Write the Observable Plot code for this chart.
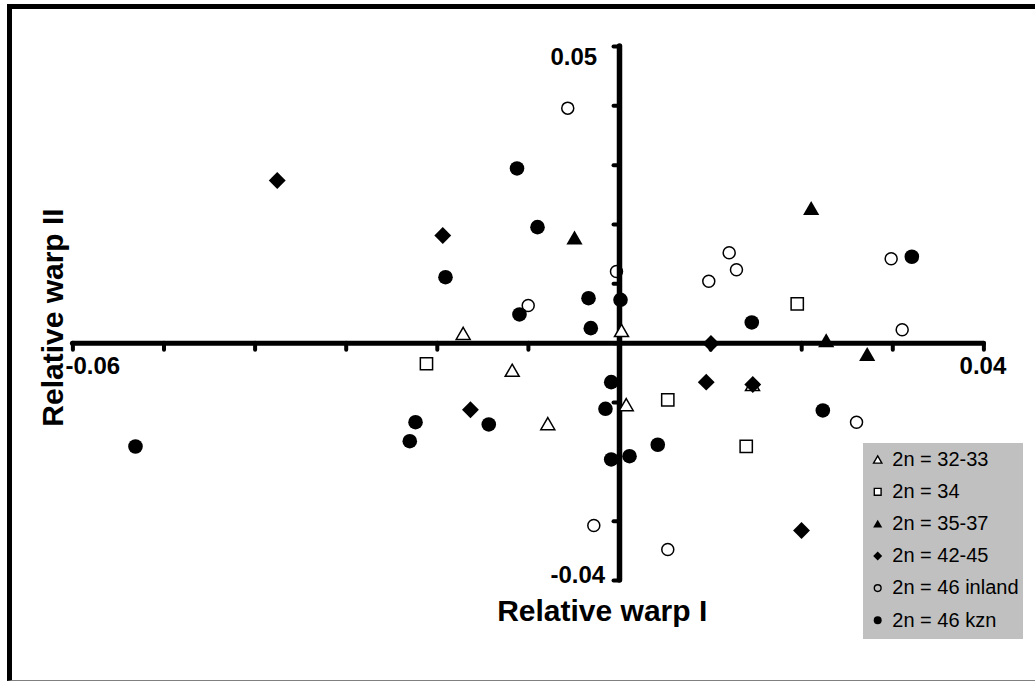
<!DOCTYPE html>
<html><head><meta charset="utf-8">
<script src="https://cdn.jsdelivr.net/npm/d3@7"></script>
<script src="https://cdn.jsdelivr.net/npm/@observablehq/plot@0.6"></script>
<style>
html,body{margin:0;padding:0;background:#fff;overflow:hidden;width:1035px;height:681px;}
#frame{position:absolute;left:7px;top:3.5px;width:2000px;height:671px;border-left:5px solid #000;border-top:5px solid #000;border-bottom:1px solid #808080;}
#chart{position:absolute;left:0;top:0;}
#legend{position:absolute;left:863px;top:443px;width:160px;height:196px;}
</style></head><body>
<div id="frame"></div>
<div id="chart"></div>
<div id="legend"></div>
<script>
// ---- data ----
const groups = ["2n = 32-33", "2n = 34", "2n = 35-37", "2n = 42-45", "2n = 46 inland", "2n = 46 kzn"];

const g3233X = [-0.01716, -0.01178, -0.00787, 0.00022, 0.00074, 0.0146];
const g3233Y = [0.0013, -0.0049, -0.0139, 0.0018, -0.0107, -0.0073];

const g34X = [-0.02119, 0.0053, 0.01391, 0.01951];
const g34Y = [-0.00347, -0.00954, -0.01741, 0.00664];

const g3537X = [-0.00494, 0.02104, 0.02269, 0.02719];
const g3537Y = [0.0174, 0.0224, 0.0001, -0.0022];

const g4245X = [-0.03757, -0.0194, -0.01636, 0.00952, 0.01463, 0.01998, 0.01004];
const g4245Y = [0.02742, 0.01815, -0.01123, -0.00657, -0.00696, -0.03157, -0.00005];

const g46inX = [-0.00568, -0.01002, -0.00033, 0.0098, 0.01204, 0.01284, 0.02982, 0.03103, 0.02602, -0.00282, 0.0053];
const g46inY = [0.03961, 0.00635, 0.01208, 0.01045, 0.01524, 0.01237, 0.01423, 0.00226, -0.01332, -0.03073, -0.03477];

const g46kzX = [-0.05313, -0.02302, -0.02239, -0.0191, -0.01435, -0.01125, -0.01098, -0.009, -0.0034, -0.00315, 0.00011, -0.00091, -0.00154, -0.00091, 0.0011, 0.0042, 0.01452, 0.02232, 0.03209];
const g46kzY = [-0.01741, -0.01652, -0.01332, 0.01112, -0.0137, 0.02945, 0.00484, 0.01955, 0.00758, 0.00253, 0.00731, -0.00657, -0.01106, -0.0196, -0.01905, -0.01712, 0.00349, -0.01134, 0.01456];

const xTicks = [-0.06, -0.05, -0.04, -0.03, -0.02, -0.01, 0, 0.01, 0.02, 0.03, 0.04];
const yTicks = [-0.04, -0.03, -0.02, -0.01, 0, 0.01, 0.02, 0.03, 0.04, 0.05];
const xTickLabels = ["-0.06", "0.04"];
const yTickLabels = ["0.05", "-0.04"];
const xTitle = "Relative warp I";
const yTitle = "Relative warp II";

// ---- build tables ----
const toRows = (X, Y) => X.map((x, i) => ({x, y: Y[i]}));
const series = [toRows(g3233X, g3233Y), toRows(g34X, g34Y), toRows(g3537X, g3537Y),
                toRows(g4245X, g4245Y), toRows(g46inX, g46inY), toRows(g46kzX, g46kzY)];
const styles = [
  {symbol: "triangle", r: 5.2, fill: "white", stroke: "black", strokeWidth: 1.5},
  {symbol: "square", r: 6.9, fill: "white", stroke: "black", strokeWidth: 1.5},
  {symbol: "triangle", r: 6.0, fill: "black", stroke: "none"},
  {symbol: "diamond2", r: 7.6, fill: "black", stroke: "none"},
  {symbol: "circle", r: 6.0, fill: "none", stroke: "black", strokeWidth: 1.5},
  {symbol: "circle", r: 7.3, fill: "black", stroke: "none"}
];

const xDom = [xTicks[0], xTicks[xTicks.length - 1]];
const yDom = [yTicks[0], yTicks[yTicks.length - 1]];
const font = "'Liberation Sans', Arial, sans-serif";

const chart = Plot.plot({
  width: 1035, height: 681,
  marginLeft: 72.4, marginRight: 51.6, marginTop: 46, marginBottom: 101,
  x: {domain: xDom, axis: null},
  y: {domain: yDom, axis: null},
  style: {fontFamily: font, background: "transparent", overflow: "visible"},
  marks: [
    // tick marks
    Plot.ruleX(xTicks, {x: d => d, y1: 0, y2: -0.00118, stroke: "black", strokeWidth: 4, strokeLinecap: "round"}),
    Plot.ruleY(yTicks, {y: d => d, x1: 0, x2: -0.0006, stroke: "black", strokeWidth: 4, strokeLinecap: "round"}),
    // axis lines through origin
    Plot.ruleY([0], {x1: xDom[0], x2: xDom[1], stroke: "black", strokeWidth: 5, strokeLinecap: "round"}),
    Plot.ruleX([0], {y1: yDom[0], y2: yDom[1], stroke: "black", strokeWidth: 5.5, strokeLinecap: "round"}),
    // tick labels
    Plot.text([xTickLabels[0]], {x: xDom[0], y: 0, text: d => d, textAnchor: "start", lineAnchor: "bottom", dx: -7.4, dy: 30.6, fontSize: 24, fontWeight: "bold", fill: "black"}),
    Plot.text([xTickLabels[1]], {x: xDom[1], y: 0, text: d => d, textAnchor: "middle", lineAnchor: "bottom", dx: -1, dy: 30.6, fontSize: 24, fontWeight: "bold", fill: "black"}),
    Plot.text([yTickLabels[0]], {x: 0, y: yDom[1], text: d => d, textAnchor: "start", lineAnchor: "bottom", dx: -69, dy: 18, fontSize: 24, fontWeight: "bold", fill: "black"}),
    Plot.text([yTickLabels[1]], {x: 0, y: yDom[0], text: d => d, textAnchor: "start", lineAnchor: "bottom", dx: -69, dy: 2, fontSize: 24, fontWeight: "bold", fill: "black"}),
    // axis titles
    Plot.text([xTitle], {frameAnchor: "bottom", text: d => d, textAnchor: "middle", lineAnchor: "bottom", dx: 73.8, dy: 40, fontSize: 30, fontWeight: "bold", fill: "black"}),
    Plot.text([yTitle], {frameAnchor: "left", text: d => d, rotate: -90, textAnchor: "middle", lineAnchor: "bottom", dx: -10.4, dy: 4, fontSize: 30, fontWeight: "bold", fill: "black"}),
    // points
    ...series.map((rows, i) => Plot.dot(rows, {x: "x", y: "y", ...styles[i]}))
  ]
});
document.getElementById("chart").appendChild(chart);

// ---- legend ----
const lw = 160, lh = 196;
const lsvg = d3.select("#legend").append("svg").attr("width", lw).attr("height", lh);
lsvg.append("rect").attr("width", lw).attr("height", lh).attr("fill", "#c0c0c0");
const legSym = [
  {type: d3.symbolTriangle, size: 30, fill: "white", stroke: "black", sw: 1.4},
  {type: d3.symbolSquare, size: 46, fill: "white", stroke: "black", sw: 1.4},
  {type: d3.symbolTriangle, size: 36, fill: "black", stroke: "none", sw: 0},
  {type: d3.symbolDiamond2, size: 52, fill: "black", stroke: "none", sw: 0},
  {type: d3.symbolCircle, size: 36, fill: "none", stroke: "black", sw: 1.4},
  {type: d3.symbolCircle, size: 50, fill: "black", stroke: "none", sw: 0}
];
groups.forEach((g, i) => {
  const base = 23 + i * 32.1;
  const s = legSym[i];
  lsvg.append("path")
    .attr("d", d3.symbol(s.type, s.size)())
    .attr("transform", `translate(14.7,${base - 6.3 + (s.type === d3.symbolTriangle ? 1 : 0)})`)
    .attr("fill", s.fill).attr("stroke", s.stroke).attr("stroke-width", s.sw);
  lsvg.append("text").attr("x", 29.3).attr("y", base)
    .attr("font-family", font).attr("font-size", 20).attr("fill", "black").text(g);
});
</script>
</body></html>
